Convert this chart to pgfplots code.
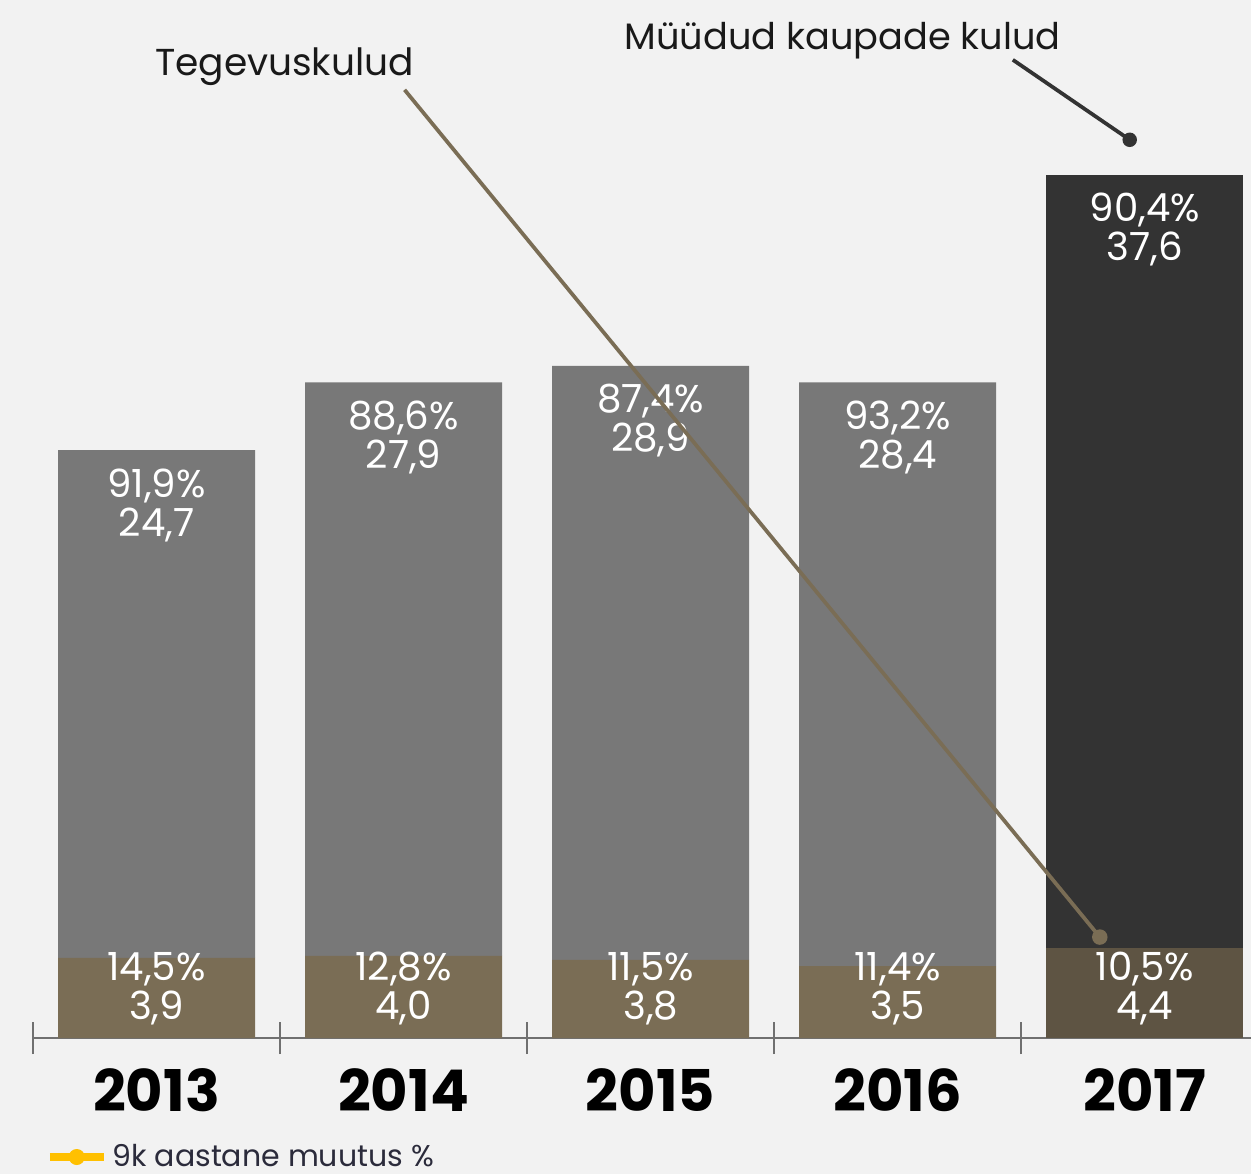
\documentclass[border=0pt]{standalone}
\usepackage{fontspec}
\setmainfont{Poppins}
\usepackage{pgfplots}
\pgfplotsset{compat=1.18}
\definecolor{bgc}{HTML}{F2F2F2}
\definecolor{grayc}{HTML}{787878}
\definecolor{brownc}{HTML}{7A6D55}
\definecolor{darkc}{HTML}{333333}
\definecolor{darkbrownc}{HTML}{5E5443}
\definecolor{axisc}{HTML}{707070}
\definecolor{yellowc}{HTML}{FFC000}
\definecolor{legtext}{HTML}{2B2B3B}
\newcommand{\lab}{\color{white}\fontsize{15.5}{15.6}\selectfont}
\begin{document}
\begin{tikzpicture}
\fill[bgc] (0,0) rectangle (500.4pt,469.6pt);
\begin{axis}[
    at={(13.2pt,54.4pt)}, anchor=south west,
    scale only axis, width=487.2pt, height=415.2pt,
    xmin=-0.5, xmax=4.43, ymin=0, ymax=50.5,
    ybar stacked, bar width=78.8pt,
    axis x line*=bottom, axis y line=none,
    axis line style={-},
    x axis line style={draw=axisc, line width=0.9pt},
    xtick={-0.5,0.5,1.5,2.5,3.5}, xticklabels={},
    xtick align=center, major tick length=12.8pt,
    every tick/.style={draw=axisc, line width=0.8pt},
    clip=false,
    legend style={draw=none, fill=none, at={(0,0)}, anchor=west,
        xshift=2pt, yshift=-47.6pt, font=\fontsize{12}{12}\selectfont, text=legtext},
    legend image code/.code={\draw[yellowc, line width=3pt] (0pt,0pt) -- (21.6pt,0pt);
        \fill[yellowc] (10.8pt,0pt) circle (3pt);},
]
\addplot[fill=brownc, draw=none] coordinates {(0,3.9) (1,4.0) (2,3.8) (3,3.5) (4,0)};
\addplot[fill=darkbrownc, draw=none] coordinates {(0,0) (1,0) (2,0) (3,0) (4,4.4)};
\addplot[fill=grayc, draw=none] coordinates {(0,24.7) (1,27.9) (2,28.9) (3,28.4) (4,0)};
\addplot[fill=darkc, draw=none] coordinates {(0,0) (1,0) (2,0) (3,0) (4,37.6)};
\addlegendimage{yellowc}
\legend{,,,,9k aastane muutus \%}

\coordinate (t0) at (axis cs:0,28.6);
\coordinate (t1) at (axis cs:1,31.9);
\coordinate (t2) at (axis cs:2,32.7);
\coordinate (t3) at (axis cs:3,31.9);
\coordinate (t4) at (axis cs:4,42.0);
\coordinate (z0) at (axis cs:0,0);
\coordinate (z1) at (axis cs:1,0);
\coordinate (z2) at (axis cs:2,0);
\coordinate (z3) at (axis cs:3,0);
\coordinate (z4) at (axis cs:4,0);
\coordinate (a1) at (axis cs:1.004,46.13);
\coordinate (a2) at (axis cs:3.818,4.91);
\coordinate (d1) at (axis cs:3.466,47.59);
\coordinate (d2) at (axis cs:3.939,43.70);
\coordinate (n1) at (axis cs:0.518,47.25);
\coordinate (n2) at (axis cs:2.777,48.51);
\end{axis}
% bottom labels (fixed height above the axis)
\foreach \c/\p/\v in {z0/{14,5\%}/{3,9}, z1/{12,8\%}/{4,0}, z2/{11,5\%}/{3,8}, z3/{11,4\%}/{3,5}, z4/{10,5\%}/{4,4}}{
  \node[font=\lab, yshift=27.6pt] at (\c) {\p};
  \node[font=\lab, yshift=12pt] at (\c) {\v};
}
% top labels
\foreach \c/\p/\v in {t0/{91,9\%}/{24,7}, t1/{88,6\%}/{27,9}, t2/{87,4\%}/{28,9}, t3/{93,2\%}/{28,4}, t4/{90,4\%}/{37,6}}{
  \node[font=\lab, yshift=-14.2pt] at (\c) {\p};
  \node[font=\lab, yshift=-29.8pt] at (\c) {\v};
}
% years
\foreach \c/\yr in {z0/2013, z1/2014, z2/2015, z3/2016, z4/2017}{
  \node[font=\bfseries\fontsize{23}{23}\selectfont, yshift=-20.8pt] at (\c) {\yr};
}
% annotations
\draw[brownc, line width=1.5pt] (a1) -- (a2);
\fill[brownc] (a2) circle (3.1pt);
\draw[darkc, line width=1.5pt] (d1) -- (d2);
\fill[darkc] (d2) circle (2.9pt);
\node[font=\fontsize{15}{15}\selectfont, text=black!90] at (n1) {Tegevuskulud};
\node[font=\fontsize{14.7}{15}\selectfont, text=black!90] at (n2) {Müüdud kaupade kulud};
\pgfresetboundingbox
\useasboundingbox (0,0) rectangle (500.4pt,469.6pt);
\end{tikzpicture}
\end{document}
